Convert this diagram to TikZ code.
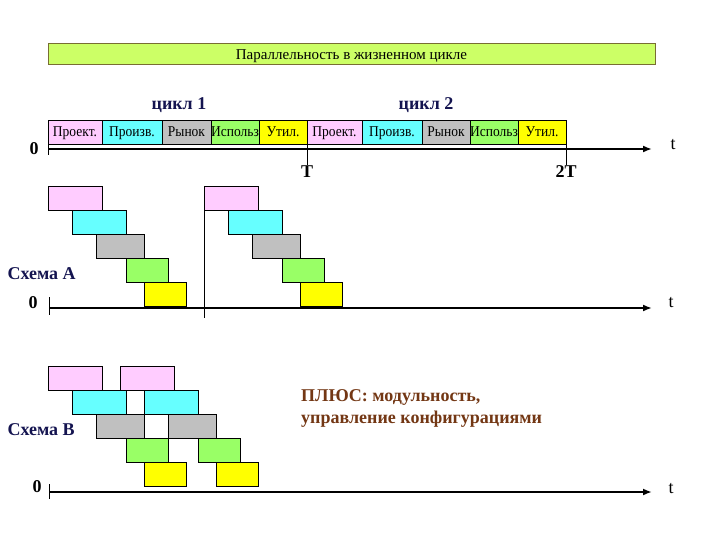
\documentclass[tikz,border=0pt]{standalone}
\usepackage{fontspec}
\setmainfont{Liberation Serif}
\newfontfamily\narrowserif[FakeStretch=0.9]{Liberation Serif}
\usetikzlibrary{arrows.meta,positioning}
\definecolor{phasePink}{RGB}{255,204,255}
\definecolor{phaseCyan}{RGB}{102,255,255}
\definecolor{phaseGray}{RGB}{192,192,192}
\definecolor{phaseGreen}{RGB}{153,255,102}
\definecolor{phaseYellow}{RGB}{255,255,0}
\definecolor{titleLime}{RGB}{204,255,102}
\definecolor{titleEdge}{RGB}{120,110,50}
\definecolor{labelNavy}{RGB}{20,20,80}
\definecolor{plusBrown}{RGB}{115,55,20}

\tikzset{
  phase/.style={rectangle, draw=black, line width=0.8pt, minimum height=24pt,
                inner sep=0pt, outer sep=0pt, text height=10pt, text depth=0pt,
                font=\narrowserif\fontsize{15}{15}\selectfont},
  cutphase/.style={phase, path picture={
      \node[anchor=center, draw=none, fill=none, inner sep=0pt,
            text height=10pt, text depth=0pt,
            font=\narrowserif\fontsize{15}{15}\selectfont]
        at (path picture bounding box.center) {#1};}},
  axis/.style={line width=2.4pt, -{Latex[length=9pt,width=7pt]}},
  tick/.style={line width=0.9pt},
  bigtext/.style={font=\fontsize{18}{18}\selectfont\bfseries},
}

\begin{document}
\begin{tikzpicture}[x=1pt,y=-1pt]
  \useasboundingbox (0,0) rectangle (720,540);

  % title
  \node[rectangle, draw=titleEdge, fill=titleLime, line width=0.8pt,
        minimum width=607pt, minimum height=21pt, inner sep=0pt,
        text height=12pt, text depth=0pt,
        font=\fontsize{15}{15}\selectfont] (title) at (351.5,53.5)
    {Параллельность в жизненном цикле};

  % cycle labels
  \node[bigtext, text=labelNavy] (cyc1) at (179,105) {цикл 1};
  \node[bigtext, text=labelNavy] (cyc2) at (426,105) {цикл 2};

  % top row: two cycles
  \node[phase, fill=phasePink, anchor=north west, minimum width=54pt] (a1) at (48,120) {Проект.};
  \node[phase, fill=phaseCyan, minimum width=60pt, right=0pt of a1] (a2) {Произв.};
  \node[phase, fill=phaseGray, minimum width=49pt, right=0pt of a2] (a3) {Рынок};
  \node[cutphase=Использ, fill=phaseGreen, minimum width=48pt, right=0pt of a3] (a4) {};
  \node[phase, fill=phaseYellow, minimum width=48pt, right=0pt of a4] (a5) {Утил.};
  \node[phase, fill=phasePink, minimum width=55pt, right=0pt of a5] (b1) {Проект.};
  \node[phase, fill=phaseCyan, minimum width=60pt, right=0pt of b1] (b2) {Произв.};
  \node[phase, fill=phaseGray, minimum width=48pt, right=0pt of b2] (b3) {Рынок};
  \node[cutphase=Использ, fill=phaseGreen, minimum width=48pt, right=0pt of b3] (b4) {};
  \node[phase, fill=phaseYellow, minimum width=48pt, right=0pt of b4] (b5) {Утил.};

  \coordinate (o0) at (48,149);
  \coordinate (e0) at (652,149);
  \draw[axis] (o0) -- (e0);
  \draw[tick] (48,144) -- (48,155);
  \draw[tick] (307,144) -- (307,165);
  \draw[tick] (566,144) -- (566,165);
  \node[bigtext] (zero0) at (34,149) {0};
  \node[font=\fontsize{18}{18}\selectfont] (t0) at (673,145) {t};
  \node[bigtext] (T1) at (307,172) {T};
  \node[bigtext] (T2) at (566,172) {2T};

  % scheme A: cycles one after another
  \foreach \dx in {0,156} {
    \foreach \xa/\xb/\row/\col in {0/54/0/phasePink, 24/78/1/phaseCyan,
        48/96/2/phaseGray, 78/120/3/phaseGreen, 96/138/4/phaseYellow}
      \draw[line width=0.8pt, fill=\col]
        (48+\dx+\xa,186+24*\row) rectangle (48+\dx+\xb,210+24*\row);
  }
  \draw[tick] (204,186) -- (204,318);
  \coordinate (oA) at (49,308);
  \coordinate (eA) at (652,308);
  \draw[axis] (oA) -- (eA);
  \draw[tick] (49,297) -- (49,315);
  \node[bigtext] (zeroA) at (33,303) {0};
  \node[font=\fontsize{18}{18}\selectfont] (tA) at (671,303) {t};
  \node[bigtext, text=labelNavy, anchor=west] (schA) at (4,274) {Схема А};

  % scheme B: overlapping cycles
  \foreach \dx in {0,72} {
    \foreach \xa/\xb/\row/\col in {0/54/0/phasePink, 24/78/1/phaseCyan,
        48/96/2/phaseGray, 78/120/3/phaseGreen, 96/138/4/phaseYellow}
      \draw[line width=0.8pt, fill=\col]
        (48+\dx+\xa,366+24*\row) rectangle (48+\dx+\xb,390+24*\row);
  }
  \coordinate (oB) at (49,492);
  \coordinate (eB) at (652,492);
  \draw[axis] (oB) -- (eB);
  \draw[tick] (49,484) -- (49,499);
  \node[bigtext] (zeroB) at (37,487) {0};
  \node[font=\fontsize{18}{18}\selectfont] (tB) at (671,489) {t};
  \node[bigtext, text=labelNavy, anchor=west] (schB) at (4,430) {Схема В};

  \node[bigtext, text=plusBrown, anchor=north west, align=left,
        inner sep=0pt] (plus) at (301,389)
    {ПЛЮС: модульность,\\[4pt]управление конфигурациями};
\end{tikzpicture}
\end{document}
